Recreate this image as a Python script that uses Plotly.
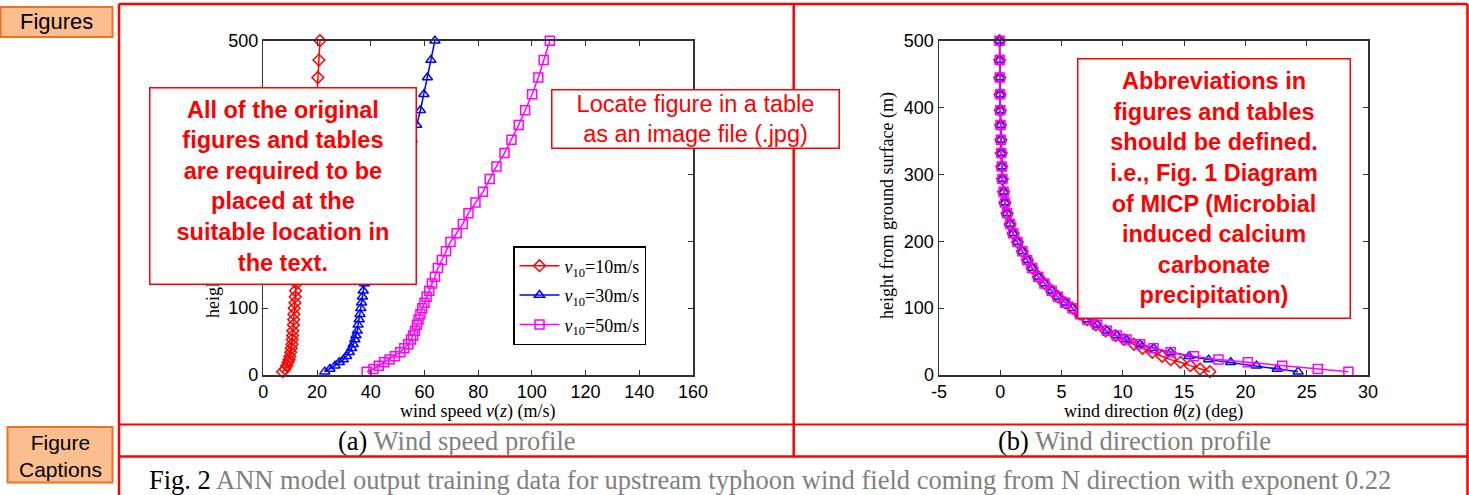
import plotly.graph_objects as go

W, H = 1469, 495

# ---------------- data ----------------
heights = [5, 9, 14, 19, 23, 28, 34, 40, 46, 53, 59, 66, 75, 83, 91, 100, 108, 117, 126, 137,
           147, 160, 172, 185, 199, 212, 226, 242, 258, 274, 293, 312, 332, 352, 374, 396, 420, 445, 471, 500]

speed_10 = [7.2, 8.1, 8.7, 9.2, 9.6, 9.9, 10.2, 10.4, 10.7, 10.8, 10.9, 11.0, 11.2, 11.3, 11.4, 11.5, 11.8, 11.9, 12.0, 12.4,
            12.8, 13.0, 13.3, 13.6, 13.9, 14.4, 14.9, 15.3, 15.8, 16.4, 16.9, 17.4, 18.0, 18.5, 19.0, 19.5, 20.0, 20.3, 20.7, 21.1]
speed_30 = [22.9, 24.8, 26.7, 28.3, 29.8, 31.0, 32.0, 32.9, 33.5, 34.1, 34.5, 35.0, 35.3, 35.7, 36.0, 36.3, 36.6, 36.9, 37.2, 37.7,
            38.3, 39.0, 39.9, 40.8, 41.8, 43.2, 44.6, 45.8, 47.4, 49.1, 50.6, 52.1, 53.9, 55.4, 57.1, 58.5, 59.8, 61.1, 62.4, 63.9]
speed_50 = [38.5, 41.0, 43.0, 45.0, 47.0, 49.0, 51.0, 52.5, 54.0, 55.0, 55.8, 56.5, 57.2, 57.8, 58.5, 59.2, 60.0, 60.8, 61.8, 62.8,
            63.9, 65.0, 66.5, 68.0, 69.7, 72.0, 74.3, 76.4, 79.0, 81.8, 84.3, 86.8, 89.8, 92.4, 95.1, 97.5, 100.1, 102.4, 104.4, 106.7]

dir_10 = [17.1, 16.3, 15.5, 14.7, 13.9, 13.2, 12.4, 11.6, 10.9, 10.1, 9.4, 8.6, 7.8, 7.1, 6.5, 5.9, 5.3, 4.7, 4.2, 3.6,
          3.1, 2.6, 2.2, 1.8, 1.4, 1.05, 0.8, 0.55, 0.38, 0.27, 0.17, 0.12, 0.08, 0.05, 0.02, 0.0, -0.02, -0.04, -0.05, -0.06]
dir_30 = [24.3, 22.6, 20.9, 18.8, 17.0, 15.4, 13.9, 12.5, 11.4, 10.3, 9.5, 8.7, 7.9, 7.1, 6.5, 5.9, 5.3, 4.7, 4.2, 3.6,
          3.1, 2.6, 2.2, 1.8, 1.4, 1.05, 0.8, 0.55, 0.38, 0.27, 0.17, 0.12, 0.08, 0.05, 0.02, 0.0, -0.02, -0.04, -0.05, -0.06]
dir_50 = [28.4, 25.9, 23.0, 20.2, 17.8, 15.8, 13.9, 12.5, 11.4, 10.3, 9.5, 8.7, 7.9, 7.1, 6.5, 5.9, 5.3, 4.7, 4.2, 3.6,
          3.1, 2.6, 2.2, 1.8, 1.4, 1.05, 0.8, 0.55, 0.38, 0.27, 0.17, 0.12, 0.08, 0.05, 0.02, 0.0, -0.02, -0.04, -0.05, -0.06]

series_names = ["<i>v</i><sub>10</sub>=10m/s", "<i>v</i><sub>10</sub>=30m/s", "<i>v</i><sub>10</sub>=50m/s"]
speed_ticks = [0, 20, 40, 60, 80, 100, 120, 140, 160]
dir_ticks = [-5, 0, 5, 10, 15, 20, 25, 30]
dir_tick_text = ["-5", "0", "5", "10", "15", "20", "25", "30"]
height_ticks = [0, 100, 200, 300, 400, 500]
height_ticks_left_labeled = [0, 100, 500]      # 200-400 labels are covered by the note box
height_ticks_left_hidden = [200, 300, 400]

# ---------------- helpers ----------------
def px(x):
    return x / W

def py(y):
    return 1 - y / H

SANS = "Liberation Sans, Arial, sans-serif"
SERIF = "Liberation Serif, Times New Roman, serif"
colors = ["#FF0000", "#0000FF", "#FF00FF"]
symbols = ["diamond-open", "triangle-up-open", "square-open"]

fig = go.Figure()

speeds = [speed_10, speed_30, speed_50]
dirs = [dir_10, dir_30, dir_50]
for i in range(3):
    fig.add_trace(go.Scatter(
        x=speeds[i], y=heights, mode="lines+markers", name=series_names[i],
        line=dict(color=colors[i], width=1.5),
        marker=dict(symbol=symbols[i], size=9, color=colors[i], line=dict(width=1.5, color=colors[i])),
        xaxis="x", yaxis="y", cliponaxis=False, legendgroup=str(i), hoverinfo="skip"))
for i in range(3):
    fig.add_trace(go.Scatter(
        x=dirs[i], y=heights, mode="lines+markers", showlegend=False,
        line=dict(color=colors[i], width=1.5),
        marker=dict(symbol=symbols[i], size=9, color=colors[i], line=dict(width=1.5, color=colors[i])),
        xaxis="x2", yaxis="y2", cliponaxis=False, hoverinfo="skip"))

axis_common = dict(ticks="inside", ticklen=5, tickcolor="#333", tickwidth=1,
                   showline=True, linecolor="#333", linewidth=1.5, mirror="ticks",
                   showgrid=False, zeroline=False, automargin=False,
                   tickfont=dict(family=SANS, size=18, color="black"))

ydom = [py(375), py(40.7)]
fig.update_layout(
    width=W, height=H, autosize=False,
    margin=dict(l=0, r=0, t=0, b=0, pad=0, autoexpand=False),
    paper_bgcolor="white", plot_bgcolor="white",
    hovermode=False,
    xaxis=dict(domain=[px(263.3), px(693)], range=[0, 160], tickvals=speed_ticks, anchor="y", **axis_common),
    yaxis=dict(domain=ydom, range=[0, 500], tickvals=height_ticks_left_labeled, anchor="x",
               minor=dict(tickvals=height_ticks_left_hidden, ticks="inside", ticklen=5, tickcolor="#333",
                          tickwidth=1, showgrid=False),
               **axis_common),
    xaxis2=dict(domain=[px(939), px(1368)], range=[-5, 30], tickvals=dir_ticks, ticktext=dir_tick_text,
                anchor="y2", **axis_common),
    yaxis2=dict(domain=ydom, range=[0, 500], tickvals=height_ticks, anchor="x2", **axis_common),
    legend=dict(x=px(513), y=py(246), xanchor="left", yanchor="top",
                bgcolor="white", bordercolor="black", borderwidth=1.5,
                font=dict(family=SERIF, size=18, color="black"),
                tracegroupgap=3, itemwidth=40),
    showlegend=True,
)

shapes = []
red = "#FF0000"
# outer frame
shapes.append(dict(type="line", xref="paper", yref="paper", x0=px(119), x1=px(1467.5), y0=py(4), y1=py(4),
                   line=dict(color=red, width=2.5)))
shapes.append(dict(type="line", xref="paper", yref="paper", x0=px(119), x1=px(119), y0=py(4), y1=py(500),
                   line=dict(color=red, width=2.5)))
shapes.append(dict(type="line", xref="paper", yref="paper", x0=px(1467.5), x1=px(1467.5), y0=py(4), y1=py(500),
                   line=dict(color=red, width=2.5)))
shapes.append(dict(type="line", xref="paper", yref="paper", x0=px(793.7), x1=px(793.7), y0=py(4), y1=py(456.5),
                   line=dict(color=red, width=2.5)))
shapes.append(dict(type="line", xref="paper", yref="paper", x0=px(119), x1=px(1467.5), y0=py(424.5), y1=py(424.5),
                   line=dict(color=red, width=2)))
shapes.append(dict(type="line", xref="paper", yref="paper", x0=px(119), x1=px(1467.5), y0=py(456.5), y1=py(456.5),
                   line=dict(color=red, width=2.5)))
# orange labels
shapes.append(dict(type="rect", xref="paper", yref="paper", x0=px(0.5), x1=px(112.5), y0=py(7), y1=py(37),
                   fillcolor="#FBBF8F", line=dict(color="#F07020", width=2)))
shapes.append(dict(type="rect", xref="paper", yref="paper", x0=px(7.5), x1=px(112.5), y0=py(427), y1=py(482.5),
                   fillcolor="#FBBF8F", line=dict(color="#F07020", width=2)))

ann = []
# axis titles
ann.append(dict(text="wind speed <i>v</i>(<i>z</i>) (m/s)", x=px(478), y=py(411), xref="paper", yref="paper",
                showarrow=False, xanchor="center", yanchor="middle", font=dict(family=SERIF, size=18, color="black")))
ann.append(dict(text="wind direction <i>θ</i>(<i>z</i>) (deg)", x=px(1153), y=py(411), xref="paper", yref="paper",
                showarrow=False, xanchor="center", yanchor="middle", font=dict(family=SERIF, size=18, color="black")))
ann.append(dict(text="height from ground surface (m)", x=px(213), y=py(205), xref="paper", yref="paper",
                showarrow=False, textangle=-90, xanchor="center", yanchor="middle",
                font=dict(family=SERIF, size=18, color="black")))
ann.append(dict(text="height from ground surface (m)", x=px(887), y=py(205), xref="paper", yref="paper",
                showarrow=False, textangle=-90, xanchor="center", yanchor="middle",
                font=dict(family=SERIF, size=18, color="black")))

# red note boxes
def box(text, x0, y0, x1, y1, bold=True, size=23.5):
    t = "<br>".join(("<b>%s</b>" % l) if bold else l for l in text)
    return dict(text=t, x=px((x0 + x1) / 2), y=py((y0 + y1) / 2), xref="paper", yref="paper",
                showarrow=False, xanchor="center", yanchor="middle", align="center", valign="middle",
                width=x1 - x0 - 3, height=y1 - y0 - 3, borderpad=0,
                bgcolor="white", bordercolor=red, borderwidth=1.5,
                font=dict(family=SANS, size=size, color=red))

ann.append(box(["All of the original", "figures and tables", "are required to be", "placed at the",
                "suitable location in", "the text."], 149.5, 86.7, 417.3, 285))
ann.append(box(["Locate figure in a table", "as an image file (.jpg)"], 551, 89, 840, 149, bold=False, size=23.5))
ann.append(box(["Abbreviations in", "figures and tables", "should be defined.", "i.e., Fig. 1 Diagram",
                "of MICP (Microbial", "induced calcium", "carbonate", "precipitation)"], 1077, 58.5, 1351, 319))

# orange label texts
ann.append(dict(text="Figures", x=px(56), y=py(22), xref="paper", yref="paper", showarrow=False,
                xanchor="center", yanchor="middle", font=dict(family=SANS, size=22, color="black")))
ann.append(dict(text="Figure<br>Captions", x=px(60), y=py(456), xref="paper", yref="paper", showarrow=False,
                xanchor="center", yanchor="middle", font=dict(family=SANS, size=21, color="black")))

# captions
GRAY = "#808080"
ann.append(dict(text="(a) <span style='color:%s'>Wind speed profile</span>" % GRAY, x=px(456.5), y=py(441),
                xref="paper", yref="paper", showarrow=False, xanchor="center", yanchor="middle",
                font=dict(family=SERIF, size=26.5, color="black")))
ann.append(dict(text="(b) <span style='color:%s'>Wind direction profile</span>" % GRAY, x=px(1134), y=py(441),
                xref="paper", yref="paper", showarrow=False, xanchor="center", yanchor="middle",
                font=dict(family=SERIF, size=26.5, color="black")))
ann.append(dict(text="Fig. 2 <span style='color:%s'>ANN model output training data for upstream typhoon wind field "
                     "coming from N direction with exponent 0.22</span>" % GRAY,
                x=px(147), y=py(480), xref="paper", yref="paper", showarrow=False, xanchor="left", yanchor="middle",
                font=dict(family=SERIF, size=26.5, color="black")))

fig.update_layout(shapes=shapes, annotations=ann)
fig.write_html("out.html", config={"displayModeBar": False, "staticPlot": True},
               post_script="document.body.style.margin='0px';document.body.style.overflow='hidden';")
